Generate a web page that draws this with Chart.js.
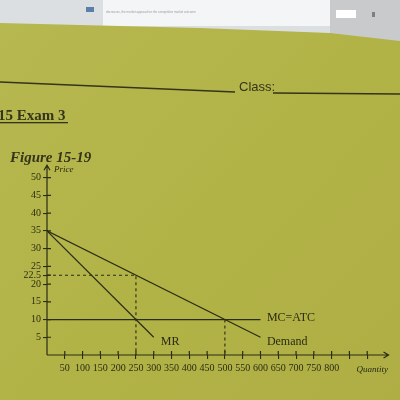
<!DOCTYPE html>
<html>
<head>
<meta charset="utf-8">
<script src="https://cdn.jsdelivr.net/npm/chart.js@4"></script>
<style>
  html, body { margin: 0; padding: 0; background: #b3b44a; }
  #wrap { width: 400px; height: 400px; position: relative; overflow: hidden; }
</style>
</head>
<body>
<div id="wrap"><canvas id="fig" width="400" height="400"></canvas></div>
<script>
// curves (quantity, price)
const demandQty = [0, 600];
const demandPrice = [35, 5];
const mrQty = [0, 300];
const mrPrice = [35, 5];
const costQty = [0, 600];
const costPrice = [10, 10];
// dashed guide lines: monopoly point and competitive point
const monoQty = [0, 250, 250];
const monoPrice = [22.5, 22.5, 0];
const compQty = [500, 500];
const compPrice = [10, 0];

const xTickValues = [50, 100, 150, 200, 250, 300, 350, 400, 450, 500, 550, 600, 650, 700, 750, 800, 850, 900];
const xTickLabels = ['50', '100', '150', '200', '250', '300', '350', '400', '450', '500', '550', '600', '650', '700', '750', '800', '', ''];
const yTickValues = [5, 10, 15, 20, 22.5, 25, 30, 35, 40, 45, 50];
const yTickLabels = ['5', '10', '15', '20', '22.5', '25', '30', '35', '40', '45', '50'];

const ink = '#2b2c14';

function pts(xs, ys) {
    return xs.map((x, i) => ({ x: x, y: ys[i] }));
}

function line(label, xs, ys, dash) {
    return {
        label: label,
        data: pts(xs, ys),
        showLine: true,
        borderColor: ink,
        borderWidth: dash ? 1.1 : 1.2,
        borderDash: dash ? [3, 3] : [],
        pointRadius: 0,
        fill: false,
        tension: 0
    };
}

// paper, screen at the top and the exam header
const backdrop = {
    id: 'backdrop',
    beforeDraw(c) {
        const g = c.ctx;
        g.save();
        // screen
        g.fillStyle = '#dcdfe1';
        g.fillRect(0, 0, 400, 60);
        g.fillStyle = '#f4f5f6';
        g.fillRect(103, 0, 227, 26);
        g.fillStyle = '#c9cacb';
        g.fillRect(330, 0, 70, 45);
        g.fillStyle = '#5b7fa8';
        g.fillRect(86, 7, 8, 5);
        g.fillStyle = '#9aa0a8';
        g.font = '3px "Liberation Sans"';
        g.fillText('decreases, the market approaches the competitive market outcome', 106, 13);
        g.fillStyle = '#ffffff';
        g.fillRect(336, 10, 20, 8);
        g.fillStyle = '#7d7f80';
        g.fillRect(372, 12, 3, 5);
        // paper
        const grad = g.createLinearGradient(0, 20, 400, 400);
        grad.addColorStop(0, '#b6b850');
        grad.addColorStop(0.5, '#b2b347');
        grad.addColorStop(1, '#aeae44');
        g.fillStyle = grad;
        g.beginPath();
        g.moveTo(0, 23);
        g.lineTo(200, 28);
        g.lineTo(330, 33);
        g.lineTo(400, 41);
        g.lineTo(400, 400);
        g.lineTo(0, 400);
        g.closePath();
        g.fill();
        // header lines
        g.strokeStyle = '#34341a';
        g.lineWidth = 1.3;
        g.beginPath();
        g.moveTo(0, 82);
        g.lineTo(235, 92);
        g.moveTo(273, 93);
        g.lineTo(400, 94);
        g.stroke();
        g.fillStyle = '#34341a';
        g.font = '13px "Liberation Sans"';
        g.fillText('Class:', 239, 91);
        g.font = 'bold 15px "Liberation Serif"';
        g.fillText('15 Exam 3', -2, 120);
        g.fillRect(-2, 122, 70, 1.3);
        g.font = 'bold italic 15px "Liberation Serif"';
        g.fillText('Figure 15-19', 10, 162);
        g.restore();
    }
};

// axis arrows, inner tick halves and curve labels
const decorations = {
    id: 'decorations',
    afterDraw(c) {
        const g = c.ctx;
        const xs = c.scales.x, ys = c.scales.y;
        const x0 = xs.getPixelForValue(0), y0 = ys.getPixelForValue(0);
        g.save();
        g.strokeStyle = ink;
        g.fillStyle = ink;
        g.lineWidth = 1.2;
        g.beginPath();
        // axes extended to arrow heads
        const yTop = ys.getPixelForValue(53.5);
        const xEnd = xs.getPixelForValue(960);
        g.moveTo(x0, y0); g.lineTo(x0, yTop);
        g.moveTo(x0 - 3, yTop + 5); g.lineTo(x0, yTop); g.lineTo(x0 + 3, yTop + 5);
        g.moveTo(x0, y0); g.lineTo(xEnd, y0);
        g.moveTo(xEnd - 5, y0 - 3); g.lineTo(xEnd, y0); g.lineTo(xEnd - 5, y0 + 3);
        // inner halves of the ticks
        xTickValues.forEach(v => {
            const p = xs.getPixelForValue(v);
            g.moveTo(p, y0); g.lineTo(p, y0 - 4);
        });
        yTickValues.forEach(v => {
            const p = ys.getPixelForValue(v);
            g.moveTo(x0, p); g.lineTo(x0 + 4, p);
        });
        g.stroke();

        g.font = '12px "Liberation Serif"';
        g.textBaseline = 'middle';
        g.fillText('MR', xs.getPixelForValue(320), ys.getPixelForValue(3.8));
        g.fillText('Demand', xs.getPixelForValue(618), ys.getPixelForValue(3.8));
        g.fillText('MC=ATC', xs.getPixelForValue(618), ys.getPixelForValue(10.5));
        g.font = 'italic 9px "Liberation Serif"';
        g.fillText('Price', x0 + 7, yTop + 4);
        g.fillText('Quantity', xs.getPixelForValue(870), y0 + 15);
        g.restore();
    }
};

new Chart(document.getElementById('fig'), {
    type: 'scatter',
    data: {
        datasets: [
            line('Demand', demandQty, demandPrice, false),
            line('MR', mrQty, mrPrice, false),
            line('MC=ATC', costQty, costPrice, false),
            line('monopoly', monoQty, monoPrice, true),
            line('competitive', compQty, compPrice, true)
        ]
    },
    options: {
        responsive: false,
        animation: false,
        layout: { padding: { top: 167, right: 15, left: 0, bottom: 0 } },
        plugins: { legend: { display: false }, tooltip: { enabled: false } },
        scales: {
            x: {
                type: 'linear',
                min: 0,
                max: 950,
                afterFit: s => { s.height = 45; },
                afterBuildTicks: s => { s.ticks = xTickValues.map(v => ({ value: v })); },
                ticks: {
                    autoSkip: false,
                    maxRotation: 0,
                    padding: 3,
                    color: ink,
                    font: { family: '"Liberation Serif"', size: 10 },
                    callback: (v) => xTickLabels[xTickValues.indexOf(v)]
                },
                grid: { drawOnChartArea: false, color: ink, tickLength: 4, lineWidth: 1.1 },
                border: { display: false }
            },
            y: {
                type: 'linear',
                min: 0,
                max: 53,
                afterFit: s => { s.width = 47; },
                afterBuildTicks: s => { s.ticks = yTickValues.map(v => ({ value: v })); },
                ticks: {
                    autoSkip: false,
                    padding: 2,
                    color: ink,
                    font: { family: '"Liberation Serif"', size: 10 },
                    callback: (v) => yTickLabels[yTickValues.indexOf(v)]
                },
                grid: { drawOnChartArea: false, color: ink, tickLength: 4, lineWidth: 1.1 },
                border: { display: false }
            }
        }
    },
    plugins: [backdrop, decorations]
});
</script>
</body>
</html>
